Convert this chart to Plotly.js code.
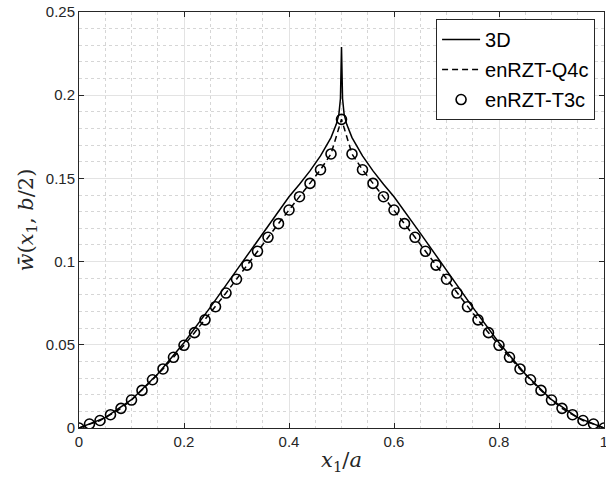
<!DOCTYPE html>
<html>
<head>
<meta charset="utf-8">
<script src="https://cdn.plot.ly/plotly-3.0.1.min.js"></script>
<style>html,body{margin:0;padding:0;background:#fff;}#chart{width:606px;height:483px;}</style>
</head>
<body>
<div id="chart"></div>
<script>
// 3D reference solution
const x3D = [0, 0.05, 0.1, 0.15, 0.2, 0.25, 0.3, 0.35, 0.4, 0.42, 0.44, 0.46, 0.48, 0.49, 0.495, 0.498, 0.5,
             0.502, 0.505, 0.51, 0.52, 0.54, 0.56, 0.58, 0.6, 0.65, 0.7, 0.75, 0.8, 0.85, 0.9, 0.95, 1];
const y3D = [0, 0.0062, 0.0170, 0.0325, 0.0512, 0.0725, 0.0947, 0.1171, 0.139, 0.1465, 0.1545, 0.1635, 0.1745, 0.1825, 0.1885, 0.198, 0.229,
             0.198, 0.1885, 0.1825, 0.1745, 0.1635, 0.1545, 0.1465, 0.139, 0.1171, 0.0947, 0.0725, 0.0512, 0.0325, 0.0170, 0.0062, 0];

// enRZT-Q4c and enRZT-T3c
const xFE = [0, 0.02, 0.04, 0.06, 0.08, 0.1, 0.12, 0.14, 0.16, 0.18, 0.2, 0.22, 0.24, 0.26, 0.28, 0.3, 0.32, 0.34, 0.36, 0.38, 0.4, 0.42, 0.44, 0.46, 0.48, 0.5,
             0.52, 0.54, 0.56, 0.58, 0.6, 0.62, 0.64, 0.66, 0.68, 0.7, 0.72, 0.74, 0.76, 0.78, 0.8, 0.82, 0.84, 0.86, 0.88, 0.9, 0.92, 0.94, 0.96, 0.98, 1];
const yQ4c = [0, 0.0024, 0.0045, 0.008, 0.0118, 0.0168, 0.0226, 0.029, 0.0355, 0.0425, 0.0497, 0.0573, 0.065, 0.0729, 0.0811, 0.0894, 0.0979, 0.1062, 0.1146, 0.1228, 0.131, 0.139, 0.147, 0.1552, 0.1647, 0.1855,
              0.1647, 0.1552, 0.147, 0.139, 0.131, 0.1228, 0.1146, 0.1062, 0.0979, 0.0894, 0.0811, 0.0729, 0.065, 0.0573, 0.0497, 0.0425, 0.0355, 0.029, 0.0226, 0.0168, 0.0118, 0.008, 0.0045, 0.0024, 0];
const yT3c = [0, 0.0024, 0.0045, 0.008, 0.0118, 0.0168, 0.0226, 0.029, 0.0355, 0.0425, 0.0497, 0.0573, 0.065, 0.0729, 0.0811, 0.0894, 0.0979, 0.1062, 0.1146, 0.1228, 0.131, 0.139, 0.147, 0.1552, 0.1647, 0.1855,
              0.1647, 0.1552, 0.147, 0.139, 0.131, 0.1228, 0.1146, 0.1062, 0.0979, 0.0894, 0.0811, 0.0729, 0.065, 0.0573, 0.0497, 0.0425, 0.0355, 0.029, 0.0226, 0.0168, 0.0118, 0.008, 0.0045, 0.0024, 0];

const xTickVals = [0, 0.2, 0.4, 0.6, 0.8, 1];
const xTickText = ['0', '0.2', '0.4', '0.6', '0.8', '1'];
const yTickVals = [0, 0.05, 0.1, 0.15, 0.2, 0.25];
const yTickText = ['0', '0.05', '0.1', '0.15', '0.2', '0.25'];

const traces = [
  {x: x3D, y: y3D, name: '3D', mode: 'lines', legendgroup: 'a',
   line: {color: '#000', width: 1.5}},
  {x: xFE, y: yQ4c, name: 'enRZT-Q4c', mode: 'lines', legendgroup: 'b',
   line: {color: '#000', width: 1.5, dash: '6px,4px'}},
  {x: xFE, y: yT3c, name: 'enRZT-T3c', mode: 'markers', legendgroup: 'c',
   marker: {symbol: 'circle-open', size: 10, color: '#000', line: {width: 1.6, color: '#000'}}}
];

const tickFont = {family: 'Liberation Sans, Arial, sans-serif', size: 15, color: '#262626'};
const titleFont = {family: 'DejaVu Serif, serif', size: 21, color: '#262626'};
const axisCommon = {
  showline: true, linecolor: '#262626', linewidth: 1, mirror: 'ticks',
  ticks: 'inside', ticklen: 5, tickwidth: 1, tickcolor: '#262626',
  showgrid: true, gridcolor: '#e3e3e3', gridwidth: 1,
  zeroline: false, tickfont: tickFont, tickmode: 'array', ticklabeloverflow: 'allow'
};

const layout = {
  width: 606, height: 483,
  margin: {l: 79, r: 2, t: 12, b: 55},
  paper_bgcolor: '#fff', plot_bgcolor: '#fff',
  showlegend: true,
  xaxis: Object.assign({}, axisCommon, {
    range: [0, 1], tickvals: xTickVals, ticktext: xTickText,
    minor: {dtick: 0.05, showgrid: true, gridcolor: '#d6d6d6', griddash: 'dot', gridwidth: 1, ticks: ''},
    title: {text: '<i>x</i><sub>1</sub>/<i>a</i>', font: titleFont, standoff: 3}
  }),
  yaxis: Object.assign({}, axisCommon, {
    range: [0, 0.25], tickvals: yTickVals, ticktext: yTickText,
    minor: {dtick: 0.01, showgrid: true, gridcolor: '#d6d6d6', griddash: 'dot', gridwidth: 1, ticks: ''},
    title: {text: '<i>w̄</i>(<i>x</i><sub>1</sub>, <i>b</i>/2)', font: titleFont, standoff: 6}
  }),
  legend: {
    x: 0.983, y: 0.983, xanchor: 'right', yanchor: 'top',
    bgcolor: '#fff', bordercolor: '#262626', borderwidth: 1,
    font: {family: 'Liberation Sans, Arial, sans-serif', size: 20, color: '#000'},
    traceorder: 'grouped', tracegroupgap: 1, itemwidth: 38
  }
};

Plotly.newPlot('chart', traces, layout, {displayModeBar: false, staticPlot: true});
</script>
</body>
</html>
